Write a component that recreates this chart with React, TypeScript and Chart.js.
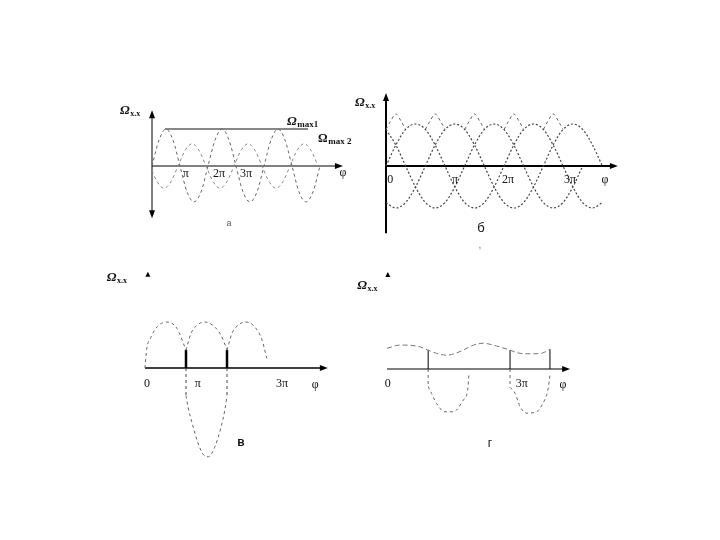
import React, { useEffect, useRef } from "react";
import { Chart, registerables } from "chart.js";

Chart.register(...registerables);

const W = 720;
const H = 540;

// ---------- panel а : two speed curves (φ in units of π) ----------
const aPhi = [0, 0.25, 0.5, 0.75, 1, 1.25, 1.5, 1.75, 2, 2.25, 2.5, 2.75, 3, 3.25, 3.5, 3.75, 4, 4.25, 4.5, 4.75, 5, 5.25, 5.5, 5.75, 6];
const aQ1 = [0, 0.7, 1, 0.7, 0, -0.7, -0.97, -0.7, 0, 0.7, 1, 0.7, 0, -0.7, -0.97, -0.7, 0, 0.7, 1, 0.7, 0, -0.7, -0.97, -0.7, 0];
const aPhi2 = [0, 0.18, 0.43, 0.68, 0.93, 1.18, 1.43, 1.68, 1.93, 2.18, 2.43, 2.68, 2.93, 3.18, 3.43, 3.68, 3.93, 4.18, 4.43, 4.68, 4.93, 5.18, 5.43, 5.68, 5.93];
const aQ2 = [-0.13, -0.42, -0.6, -0.42, 0, 0.42, 0.6, 0.42, 0, -0.42, -0.6, -0.42, 0, 0.42, 0.6, 0.42, 0, -0.42, -0.6, -0.42, 0, 0.42, 0.6, 0.42, 0];
const aMaxPhi = [0.46, 5.57];
const aMaxQ = [1, 1];
const aTickLabels = ["π", "2π", "3π"];
const aTickPhi = [1.21, 2.39, 3.36];

// ---------- panel б : three-phase curves ----------
const bPhi = [0, 0.167, 0.333, 0.5, 0.667, 0.833, 1, 1.167, 1.333, 1.5, 1.667, 1.833, 2, 2.167, 2.333, 2.5, 2.667, 2.833, 3, 3.167, 3.333, 3.5, 3.667];
const bQ1 = [0, 0.5, 0.87, 1, 0.87, 0.5, 0, -0.5, -0.87, -1, -0.87, -0.5, 0, 0.5, 0.87, 1, 0.87, 0.5, 0, -0.5, -0.87, -1, -0.87];
const bQ2 = [-0.87, -1, -0.87, -0.5, 0, 0.5, 0.87, 1, 0.87, 0.5, 0, -0.5, -0.87, -1, -0.87, -0.5, 0, 0.5, 0.87, 1, 0.87, 0.5, 0];
const bQ3 = [0.87, 0.5, 0, -0.5, -0.87, -1, -0.87, -0.5, 0, 0.5, 0.87, 1, 0.87, 0.5, 0, -0.5, -0.87, -1, -0.87, -0.5, 0];
const bLobePhi = [
  [0, 0.083, 0.167, 0.25, 0.333],
  [0.667, 0.75, 0.833, 0.917, 1],
  [1.333, 1.417, 1.5, 1.583, 1.667],
  [2, 2.083, 2.167, 2.25, 2.333],
  [2.667, 2.75, 2.833, 2.917, 3],
];
const bLobeQ = [0.87, 1.08, 1.24, 1.08, 0.87];
const bTickLabels = ["0", "π", "2π", "3π"];
const bTickPhi = [0.07, 1.17, 2.07, 3.12];

// ---------- panel в ----------
const cArch1Phi = [0, 0.04, 0.14, 0.3, 0.53, 0.78, 1];
const cArch1Q = [0, 0.4, 0.66, 0.9, 1.0, 0.86, 0.39];
const cArch2Phi = [1, 1.12, 1.27, 1.45, 1.65, 1.85, 2];
const cArch2Q = [0.39, 0.75, 0.93, 1.0, 0.93, 0.72, 0.39];
const cArch3Phi = [2, 2.12, 2.27, 2.45, 2.65, 2.85, 2.97];
const cArch3Q = [0.39, 0.75, 0.93, 1.0, 0.92, 0.62, 0.21];
const cTroughPhi = [1, 1.05, 1.15, 1.28, 1.42, 1.55, 1.7, 1.85, 1.95, 2];
const cTroughQ = [-0.6, -0.85, -1.2, -1.6, -1.88, -1.93, -1.72, -1.3, -0.9, -0.6];
const cStepPhi = [1, 2];
const cStepTop = [0.39, 0.39];
const cStepBottom = [-0.6, -0.6];
const cTickLabels = ["0", "π", "3π"];
const cTickPhi = [0.05, 1.29, 3.34];

// ---------- panel г ----------
const dWavePhi = [0, 0.31, 0.71, 0.98, 1.18, 1.42, 1.74, 2.06, 2.29, 2.61, 2.93, 3.17, 3.48, 3.71, 3.88];
const dWaveQ = [0.45, 0.52, 0.5, 0.41, 0.34, 0.3, 0.38, 0.52, 0.56, 0.5, 0.41, 0.34, 0.33, 0.35, 0.43];
const dTrough1Phi = [0.98, 1.06, 1.18, 1.38, 1.58, 1.82, 1.92, 1.95];
const dTrough1Q = [-0.38, -0.53, -0.75, -0.93, -0.93, -0.67, -0.46, -0.12];
const dTrough2Phi = [2.93, 3.05, 3.17, 3.33, 3.56, 3.71, 3.83, 3.88];
const dTrough2Q = [-0.4, -0.53, -0.82, -0.96, -0.93, -0.75, -0.46, -0.13];
const dStepPhi = [0.98, 2.93, 3.88];
const dStepTop = [0.41, 0.41, 0.43];
const dDropPhi = [0.98, 2.93];
const dDropBottom = [-0.38, -0.4];
const dTickLabels = ["0", "3π"];
const dTickPhi = [0.02, 3.21];

// ---------- layout (pixel origin and pixels per unit of each panel) ----------
const panels: Record<string, { ox: number; oy: number; kx: number; ky: number }> = {
  a: { ox: 152, oy: 166, kx: 28, ky: 37 },
  b: { ox: 386, oy: 166, kx: 59, ky: 42 },
  c: { ox: 145, oy: 368, kx: 41, ky: 46 },
  d: { ox: 387, oy: 369, kx: 42, ky: 46 },
};

const axesCfg = [
  { p: "a", xEnd: 6.82, yTop: 1.51, yBottom: -1.41, width: 1, up: true, down: true },
  { p: "b", xEnd: 3.93, yTop: 1.74, yBottom: -1.6, width: 2, up: true, down: false },
  { p: "c", xEnd: 4.46, width: 1.6, tip: [0.07, 2.09] },
  { p: "d", xEnd: 4.36, width: 1.2, tip: [0.02, 2.11] },
];

const SERIF = "'Liberation Serif', 'DejaVu Serif', serif";
const SANS = "'Liberation Sans', 'DejaVu Sans', sans-serif";

type Lbl = { p: string; x: number; y: number; t: string; sub?: string; font?: string; subFont?: string; align?: CanvasTextAlign; color?: string };

const labels: Lbl[] = [
  { p: "a", x: -1.14, y: 1.41, t: "Ω", sub: "х.х" },
  { p: "a", x: 4.82, y: 1.11, t: "Ω", sub: "max1", subFont: `bold 9px ${SERIF}` },
  { p: "a", x: 5.93, y: 0.65, t: "Ω", sub: "max 2", subFont: `bold 9px ${SERIF}`, font: `bold 12px ${SERIF}` },
  ...aTickLabels.map((t, i) => ({ p: "a", x: aTickPhi[i], y: -0.3, t, align: "center" as CanvasTextAlign })),
  { p: "a", x: 6.82, y: -0.27, t: "φ", align: "center" },
  { p: "a", x: 2.75, y: -1.62, t: "а", font: `9px ${SANS}`, align: "center", color: "#555" },

  { p: "b", x: -0.525, y: 1.43, t: "Ω", sub: "х.х" },
  ...bTickLabels.map((t, i) => ({ p: "b", x: bTickPhi[i], y: -0.4, t, align: "center" as CanvasTextAlign })),
  { p: "b", x: 3.71, y: -0.4, t: "φ", align: "center" },
  { p: "b", x: 1.61, y: -1.57, t: "б", font: `13px ${SANS}`, align: "center" },
  { p: "b", x: 1.59, y: -1.95, t: ",", font: `10px ${SANS}`, align: "center", color: "#777" },

  { p: "c", x: -0.93, y: 1.89, t: "Ω", sub: "х.х" },
  ...cTickLabels.map((t, i) => ({ p: "c", x: cTickPhi[i], y: -0.41, t, align: "center" as CanvasTextAlign })),
  { p: "c", x: 4.15, y: -0.43, t: "φ", align: "center" },
  { p: "c", x: 2.34, y: -1.7, t: "в", font: `bold 12px ${SANS}`, align: "center" },

  { p: "d", x: -0.71, y: 1.74, t: "Ω", sub: "х.х" },
  ...dTickLabels.map((t, i) => ({ p: "d", x: dTickPhi[i], y: -0.39, t, align: "center" as CanvasTextAlign })),
  { p: "d", x: 4.19, y: -0.41, t: "φ", align: "center" },
  { p: "d", x: 2.45, y: -1.7, t: "г", font: `12px ${SANS}`, align: "center" },
];

function series(p: string, phi: number[], q: number[], style: any) {
  return {
    data: phi.map((x, i) => ({ x, y: q[i] })),
    xAxisID: "x" + p,
    yAxisID: "y" + p,
    showLine: true,
    pointRadius: 0,
    pointHoverRadius: 0,
    fill: false,
    borderColor: "#333",
    borderWidth: 1,
    cubicInterpolationMode: "monotone",
    ...style,
  };
}

const dotted = { borderDash: [2, 2], borderColor: "#444", borderWidth: 1.2 };
const dashed = { borderDash: [3, 3], borderColor: "#666", borderWidth: 1 };
const solidV = { borderColor: "#000", borderWidth: 1, tension: 0, cubicInterpolationMode: "default" };

function buildDatasets() {
  const ds: any[] = [];
  ds.push(series("a", aPhi, aQ1, dashed));
  ds.push(series("a", aPhi2, aQ2, { ...dashed, borderColor: "#888" }));
  ds.push(series("a", aMaxPhi, aMaxQ, { borderColor: "#111", borderWidth: 1, tension: 0, cubicInterpolationMode: "default" }));

  ds.push(series("b", bPhi, bQ1, dotted));
  ds.push(series("b", bPhi, bQ2, dotted));
  ds.push(series("b", bPhi.slice(0, bQ3.length), bQ3, dotted));
  bLobePhi.forEach((lp) => ds.push(series("b", lp, bLobeQ, dashed)));

  ds.push(series("c", cArch1Phi, cArch1Q, dashed));
  ds.push(series("c", cArch2Phi, cArch2Q, dashed));
  ds.push(series("c", cArch3Phi, cArch3Q, dashed));
  ds.push(series("c", cTroughPhi, cTroughQ, dashed));
  cStepPhi.forEach((x, i) => {
    ds.push(series("c", [x, x], [0, cStepTop[i]], { ...solidV, borderWidth: 2.5 }));
    ds.push(series("c", [x, x], [0, cStepBottom[i]], { ...dashed, borderColor: "#444", tension: 0, cubicInterpolationMode: "default" }));
  });

  ds.push(series("d", dWavePhi, dWaveQ, { borderDash: [5, 3], borderColor: "#777", borderWidth: 1 }));
  ds.push(series("d", dTrough1Phi, dTrough1Q, dashed));
  ds.push(series("d", dTrough2Phi, dTrough2Q, dashed));
  dStepPhi.forEach((x, i) => ds.push(series("d", [x, x], [0, dStepTop[i]], solidV)));
  dDropPhi.forEach((x, i) =>
    ds.push(series("d", [x, x], [0, dDropBottom[i]], { ...dashed, tension: 0, cubicInterpolationMode: "default" }))
  );
  return ds;
}

function buildScales() {
  const scales: any = {};
  Object.keys(panels).forEach((p) => {
    const g = panels[p];
    scales["x" + p] = { type: "linear", display: false, min: -g.ox / g.kx, max: (W - g.ox) / g.kx, ticks: { display: false } };
    scales["y" + p] = { type: "linear", display: false, min: -(H - g.oy) / g.ky, max: g.oy / g.ky, ticks: { display: false } };
  });
  return scales;
}

function pt(chart: any, p: string, x: number, y: number): [number, number] {
  return [chart.scales["x" + p].getPixelForValue(x), chart.scales["y" + p].getPixelForValue(y)];
}

function arrow(ctx: CanvasRenderingContext2D, x: number, y: number, dir: string, len = 8, hw = 3) {
  ctx.beginPath();
  if (dir === "right") {
    ctx.moveTo(x, y);
    ctx.lineTo(x - len, y - hw);
    ctx.lineTo(x - len, y + hw);
  } else if (dir === "up") {
    ctx.moveTo(x, y);
    ctx.lineTo(x - hw, y + len);
    ctx.lineTo(x + hw, y + len);
  } else {
    ctx.moveTo(x, y);
    ctx.lineTo(x - hw, y - len);
    ctx.lineTo(x + hw, y - len);
  }
  ctx.closePath();
  ctx.fill();
}

const figurePlugin = {
  id: "figure",
  beforeDatasetsDraw(chart: any) {
    const ctx: CanvasRenderingContext2D = chart.ctx;
    ctx.save();
    ctx.strokeStyle = "#000";
    ctx.fillStyle = "#000";
    axesCfg.forEach((a: any) => {
      ctx.lineWidth = a.width;
      const [x0, y0] = pt(chart, a.p, 0, 0);
      const [x1] = pt(chart, a.p, a.xEnd, 0);
      ctx.beginPath();
      ctx.moveTo(x0, y0);
      ctx.lineTo(x1 - 4, y0);
      ctx.stroke();
      arrow(ctx, x1, y0, "right");
      if (a.yTop !== undefined) {
        const [, yt] = pt(chart, a.p, 0, a.yTop);
        const [, yb] = pt(chart, a.p, 0, a.yBottom);
        ctx.beginPath();
        ctx.moveTo(x0, a.up ? yt + 4 : yt);
        ctx.lineTo(x0, a.down ? yb - 4 : yb);
        ctx.stroke();
        if (a.up) arrow(ctx, x0, yt, "up");
        if (a.down) arrow(ctx, x0, yb, "down");
      }
      if (a.tip) {
        const [tx, ty] = pt(chart, a.p, a.tip[0], a.tip[1]);
        arrow(ctx, tx, ty, "up", 5, 2.5);
      }
    });
    ctx.restore();
  },
  afterDatasetsDraw(chart: any) {
    const ctx: CanvasRenderingContext2D = chart.ctx;
    ctx.save();
    ctx.textBaseline = "alphabetic";
    labels.forEach((l) => {
      const [x, y] = pt(chart, l.p, l.x, l.y);
      ctx.fillStyle = l.color || "#111";
      if (l.sub) {
        ctx.textAlign = "left";
        ctx.font = l.font || `italic bold 13px ${SERIF}`;
        ctx.fillText(l.t, x, y);
        const w = ctx.measureText(l.t).width;
        ctx.font = l.subFont || `bold 8px ${SERIF}`;
        ctx.fillText(l.sub, x + w + 0.5, y + 2);
      } else {
        ctx.textAlign = l.align || "left";
        ctx.font = l.font || `12px ${SERIF}`;
        ctx.fillText(l.t, x, y);
      }
    });
    ctx.restore();
  },
};

export default function App() {
  const ref = useRef<HTMLCanvasElement | null>(null);
  useEffect(() => {
    if (!ref.current) return;
    const chart = new Chart(ref.current, {
      type: "scatter",
      data: { datasets: buildDatasets() },
      options: {
        animation: false,
        responsive: false,
        events: [],
        layout: { padding: 0 },
        plugins: { legend: { display: false }, tooltip: { enabled: false }, title: { display: false } },
        scales: buildScales(),
      },
      plugins: [figurePlugin],
    } as any);
    return () => chart.destroy();
  }, []);
  return (
    <div style={{ position: "fixed", left: 0, top: 0, width: W, height: H, background: "#fff" }}>
      <canvas ref={ref} width={W} height={H} style={{ width: W, height: H, display: "block" }} />
    </div>
  );
}
